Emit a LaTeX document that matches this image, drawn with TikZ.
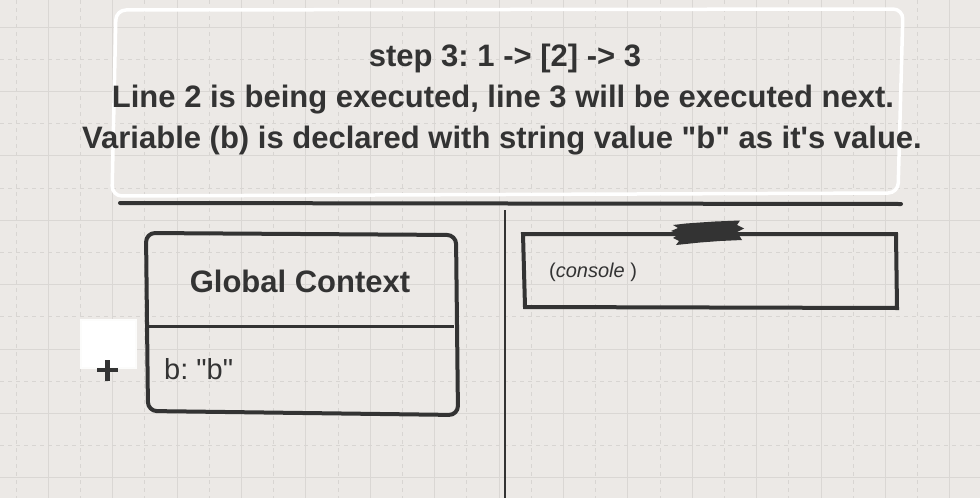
\documentclass[tikz,border=0pt]{standalone}
\usepackage{fontspec}
\setmainfont{Liberation Sans}[Ligatures=TeXOff]
\frenchspacing
\definecolor{bg}{HTML}{ECE9E6}
\definecolor{gridsolid}{HTML}{DAD7D4}
\definecolor{griddash}{HTML}{D8D5D2}
\definecolor{ink}{HTML}{333333}
\tikzset{
  sketch/.style={draw=ink, line width=4pt, rounded corners=9pt, line join=round},
  headtext/.style={text=ink, font=\bfseries\fontsize{31}{34}\selectfont, inner sep=0pt, anchor=center},
}
\begin{document}
\begin{tikzpicture}[x=1pt,y=-1pt]
\fill[bg] (0,0) rectangle (980,498);
\useasboundingbox (0,0) rectangle (980,498);
% grid
\foreach \i in {0,...,15} {
  \draw[gridsolid, line width=0.9pt] ({48.2+64.4*\i},0) -- ({48.2+64.4*\i},498);
  \draw[griddash, line width=0.9pt, dash pattern=on 4pt off 4pt] ({16+64.4*\i},0) -- ({16+64.4*\i},498);
}
\foreach \i in {0,...,7} {
  \draw[gridsolid, line width=0.9pt] (0,{27+64.4*\i}) -- (980,{27+64.4*\i});
  \draw[griddash, line width=0.9pt, dash pattern=on 4pt off 4pt] (0,{59.2+64.4*\i}) -- (980,{59.2+64.4*\i});
}
% header box
\draw[white, line width=3.5pt, rounded corners=10pt, line join=round]
  (116,10) -- (903,9) -- (898,193) -- (112,196) -- cycle;
\draw[ink, line width=4pt, line cap=round] (120,203) -- (901,204);
\node[headtext] (t1) at (505,58) {step 3: 1 -> [2] -> 3};
\node[headtext] (t2) at (503,100) {Line 2 is being executed, line 3 will be executed next.};
\node[headtext] (t3) at (502,141) {Variable (b) is declared with string value "b" as it's value.};
% divider
\coordinate (dtop) at (505,210);
\coordinate (dbot) at (505,498);
\draw[ink, line width=1.4pt] (dtop) -- (dbot);
% global context
\draw[sketch] (146,233) -- (456,235) -- (458,415) -- (148,411) -- cycle;
\draw[ink, line width=3pt] (148,326.5) -- (454,326.5);
\node[text=ink, font=\bfseries\fontsize{31}{34}\selectfont, inner sep=0pt] (gc) at (300,281) {Global Context};
\node[text=ink, font=\fontsize{29}{32}\selectfont, inner sep=0pt, anchor=west] (bvar) at (164,369) {b: "b"};
% add square
\draw[draw=white!85!bg, line width=2pt, fill=white] (81,320) rectangle (136,368);
\node[inner sep=0pt] (plus) at (107,370) {};
\draw[ink, line width=4.5pt] (97,370) -- (118,370);
\draw[ink, line width=4.5pt] (107.5,360) -- (107.5,381);
% console
\draw[draw=ink, line width=4pt, line join=miter] (523,234) -- (896,234) -- (897,308) -- (525,307) -- cycle;
\fill[ink] (673,225) -- (686,223.5) -- (700,222.5) -- (715,221.5) -- (740,220.5) -- (737,225) -- (744,228.5) -- (737,232) -- (742,240)
  -- (720,241) -- (700,242.5) -- (676,245) -- (679,241) -- (673,238) -- (679,234) -- (671,231) -- (678,228) -- cycle;
\node[text=ink, font=\fontsize{20}{23}\selectfont, inner sep=0pt, anchor=west] (con) at (549,272) {(\textit{console} )};
\end{tikzpicture}
\end{document}
